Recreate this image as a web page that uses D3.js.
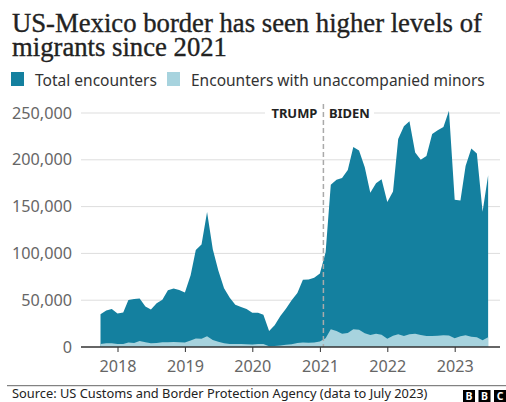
<!DOCTYPE html>
<html>
<head>
<meta charset="utf-8">
<script src="https://cdn.jsdelivr.net/npm/d3@7"></script>
<style>
  html, body { margin: 0; padding: 0; background: #fff; }
  svg { display: block; }
</style>
</head>
<body>
<svg id="chart" width="506" height="402"></svg>
<script>
// ---- Data (monthly, Oct 2017 – Jul 2023) ----
const months = [
  "2017-10","2017-11","2017-12",
  "2018-01","2018-02","2018-03","2018-04","2018-05","2018-06","2018-07","2018-08","2018-09","2018-10","2018-11","2018-12",
  "2019-01","2019-02","2019-03","2019-04","2019-05","2019-06","2019-07","2019-08","2019-09","2019-10","2019-11","2019-12",
  "2020-01","2020-02","2020-03","2020-04","2020-05","2020-06","2020-07","2020-08","2020-09","2020-10","2020-11","2020-12",
  "2021-01","2021-02","2021-03","2021-04","2021-05","2021-06","2021-07","2021-08","2021-09","2021-10","2021-11","2021-12",
  "2022-01","2022-02","2022-03","2022-04","2022-05","2022-06","2022-07","2022-08","2022-09","2022-10","2022-11","2022-12",
  "2023-01","2023-02","2023-03","2023-04","2023-05","2023-06","2023-07"
];
const totalEncounters = [
  34871, 39051, 40519,
  35822, 36942, 50347, 51168, 51862, 43180, 40036, 46719, 50568, 60743, 62469, 60794,
  58317, 76545, 103731, 109415, 144116, 104311, 81777, 62707, 52546, 45250, 42649, 40565,
  36585, 36687, 34460, 17106, 23237, 33049, 40929, 50014, 57674, 71929, 72113, 73994,
  78414, 101099, 173277, 178795, 180597, 189034, 213593, 209840, 192001, 164837, 174845, 179253,
  154874, 166010, 222239, 235785, 241136, 207834, 200162, 204087, 227547, 231529, 235173, 252315,
  157358, 156630, 193249, 211992, 206690, 144556, 183503
];
const unaccompaniedMinors = [
  3159, 3978, 4089,
  3221, 3191, 4919, 4301, 6405, 5114, 3935, 4249, 4954, 4978, 5258, 5055,
  4800, 6812, 8960, 8874, 11475, 7385, 5535, 3976, 3334, 3219, 3287, 3031,
  2671, 3095, 3115, 741, 1003, 1623, 2504, 2860, 4205, 4687, 4451, 4862,
  5871, 9431, 18890, 17148, 14158, 15018, 18877, 18562, 14646, 12819, 14057, 13014,
  8709, 11984, 13500, 11800, 13700, 14200, 12900, 11800, 11800, 12100, 12500, 12300,
  9400, 11500, 12500, 11000, 10400, 7300, 10300
];
const yTicks = [0, 50000, 100000, 150000, 200000, 250000];
const xTickYears = ["2018", "2019", "2020", "2021", "2022", "2023"];
const legendLabels = ["Total encounters", "Encounters with unaccompanied minors"];
const eraLabels = ["TRUMP", "BIDEN"];
const inaugurationDate = "2021-01-20";
const titleLines = ["US-Mexico border has seen higher levels of", "migrants since 2021"];
const sourceText = "Source: US Customs and Border Protection Agency (data to July 2023)";

// ---- Setup ----
const svg = d3.select("#chart");
const parseMonth = d3.timeParse("%Y-%m");
const parseDay = d3.timeParse("%Y-%m-%d");
const data = months.map((m, i) => ({ date: parseMonth(m), total: totalEncounters[i], minors: unaccompaniedMinors[i] }));

const colTotal = "#14809f";
const colMinors = "#a7d3de";
const sans = "'Noto Sans', 'Open Sans', sans-serif";

function fitWidth(sel, target) {
  const node = sel.node();
  const fs = parseFloat(sel.attr("font-size"));
  const w = node.getComputedTextLength();
  if (w > 0) sel.attr("font-size", (fs * target / w).toFixed(2));
  return sel;
}

// ---- Title (one text element, two lines) ----
const title = svg.append("text")
  .attr("font-family", "'Liberation Serif', serif").attr("font-size", 24)
  .attr("fill", "#222").attr("stroke", "#222").attr("stroke-width", 0.35);
const tl1 = title.append("tspan").attr("x", 12).attr("y", 32).text(titleLines[0]);
const w1 = tl1.node().getComputedTextLength();
if (w1 > 0) title.attr("font-size", (24 * 470 / w1).toFixed(2));
title.append("tspan").attr("x", 12).attr("y", 56).text(titleLines[1]);

// ---- Legend ----
const legendItems = [
  { label: legendLabels[0], color: colTotal, sx: 11, tx: 35, w: 122 },
  { label: legendLabels[1], color: colMinors, sx: 167, tx: 191, w: 294 }
];
legendItems.forEach(it => {
  svg.append("rect").attr("x", it.sx).attr("y", 72).attr("width", 13).attr("height", 14).attr("fill", it.color);
  const lt = svg.append("text").attr("x", it.tx).attr("y", 85.5)
    .attr("font-family", sans).attr("font-size", 15).attr("fill", "#333").text(it.label);
  fitWidth(lt, it.w);
});

// ---- Scales ----
const x = d3.scaleTime()
  .domain([parseDay("2018-01-01"), parseDay("2023-01-01")])
  .range([117.5, 454.7]);
const left = 81, right = 500;
const y = d3.scaleLinear().domain([0, 250000]).range([347, 113]);

// ---- Gridlines & y labels ----
const grid = svg.append("g");
yTicks.forEach(v => {
  if (v === 0) return;
  grid.append("line").attr("x1", left).attr("x2", right)
    .attr("y1", y(v)).attr("y2", y(v)).attr("stroke", "#dddddd").attr("stroke-width", 1);
});
const yLab = svg.append("g");
let yFont = null;
yTicks.forEach(v => {
  const tl = yLab.append("text").attr("x", 72).attr("y", y(v)).attr("dy", "0.35em")
    .attr("text-anchor", "end").attr("font-family", sans).attr("font-size", 15)
    .attr("fill", "#666").text(d3.format(",")(v));
  if (v === 250000) { fitWidth(tl, 60); yFont = tl.attr("font-size"); }
});
yLab.selectAll("text").attr("font-size", yFont);

// ---- Areas ----
const areaTotal = d3.area().x(d => x(d.date)).y0(y(0)).y1(d => y(d.total));
const areaMinors = d3.area().x(d => x(d.date)).y0(y(0)).y1(d => y(d.minors));
svg.append("path").datum(data).attr("d", areaTotal).attr("fill", colTotal);
svg.append("path").datum(data).attr("d", areaMinors).attr("fill", colMinors);

// ---- Era labels & divider ----
const xi = x(parseDay(inaugurationDate));
svg.append("rect").attr("x", 265).attr("y", 105).attr("width", 109).attr("height", 16).attr("fill", "#fff");
svg.append("line").attr("x1", xi).attr("x2", xi).attr("y1", 104).attr("y2", 347)
  .attr("stroke", "#aaaaaa").attr("stroke-width", 1.5).attr("stroke-dasharray", "5,3");
const trump = svg.append("text").attr("x", xi - 6).attr("y", y(250000)).attr("dy", "0.35em")
  .attr("text-anchor", "end").attr("font-family", sans).attr("font-weight", "bold")
  .attr("font-size", 12.5).attr("fill", "#222").text(eraLabels[0]);
fitWidth(trump, 46);
const biden = svg.append("text").attr("x", xi + 5.5).attr("y", y(250000)).attr("dy", "0.35em")
  .attr("font-family", sans).attr("font-weight", "bold")
  .attr("font-size", trump.attr("font-size")).attr("fill", "#222").text(eraLabels[1]);

// ---- X axis ----
const xAxis = d3.axisBottom(x)
  .tickValues(xTickYears.map(yr => parseDay(yr + "-01-01")))
  .tickFormat(d3.timeFormat("%Y"))
  .tickSize(5).tickPadding(9);
const gx = svg.append("g").attr("transform", `translate(0,${y(0)})`).call(xAxis);
gx.select(".domain").remove();
gx.selectAll(".tick line").attr("stroke", "#333");
gx.selectAll(".tick text").attr("font-family", sans).attr("font-size", 16).attr("fill", "#666");
const first = gx.select(".tick text");
fitWidth(first, 37);
gx.selectAll(".tick text").attr("font-size", first.attr("font-size"));
svg.append("line").attr("x1", left).attr("x2", right).attr("y1", y(0)).attr("y2", y(0))
  .attr("stroke", "#333").attr("stroke-width", 1.5);

// ---- Footer ----
svg.append("line").attr("x1", 7).attr("x2", 506).attr("y1", 385.7).attr("y2", 385.7)
  .attr("stroke", "#666").attr("stroke-width", 1);
const src = svg.append("text").attr("x", 12).attr("y", 398)
  .attr("font-family", sans).attr("font-size", 13).attr("fill", "#222").text(sourceText);
fitWidth(src, 416);
["B", "B", "C"].forEach((ch, i) => {
  const bx = 463 + i * 15.5;
  svg.append("rect").attr("x", bx).attr("y", 390).attr("width", 12).attr("height", 12).attr("fill", "#000");
  svg.append("text").attr("x", bx + 6).attr("y", 400).attr("text-anchor", "middle")
    .attr("font-family", sans).attr("font-weight", "bold").attr("font-size", 10.5)
    .attr("fill", "#fff").text(ch);
});
</script>
</body>
</html>
